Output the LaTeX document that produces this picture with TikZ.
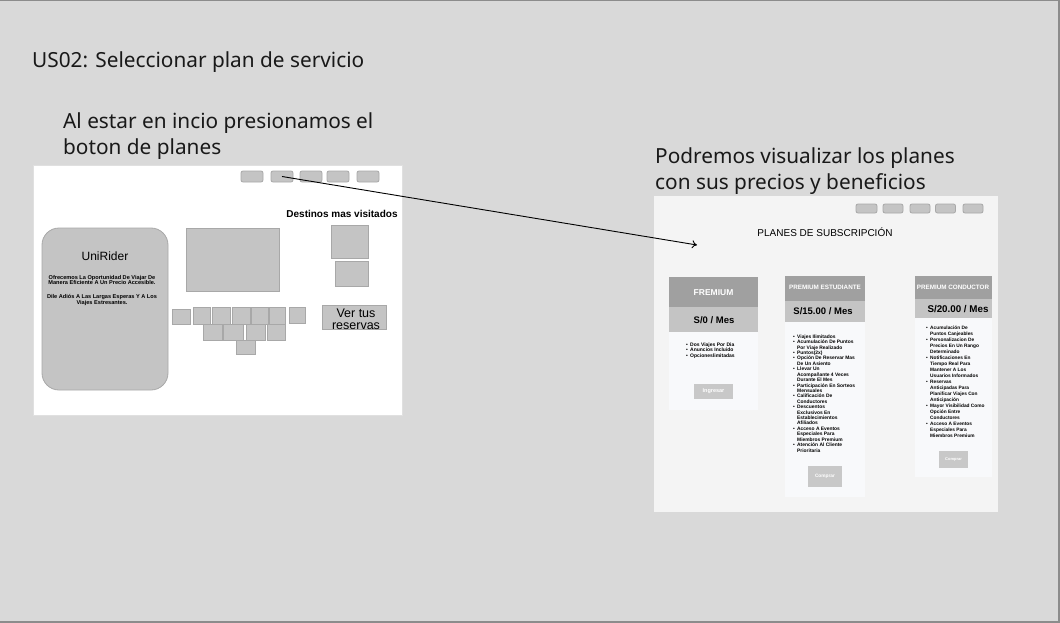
\documentclass[tikz,border=0pt]{standalone}
\usepackage{fontspec}
\setmainfont{Noto Sans}
\newfontfamily\mockfont{Liberation Sans}
\usetikzlibrary{arrows.meta}
\definecolor{bg}{HTML}{D9D9D9}
\definecolor{frameline}{HTML}{8C8C8C}
\definecolor{boxfill}{HTML}{C4C4C4}
\definecolor{boxline}{HTML}{A8A8A8}
\definecolor{panelR}{HTML}{F4F4F4}
\definecolor{panelL}{HTML}{FFFFFF}
\definecolor{cardhead}{HTML}{A0A0A0}
\definecolor{cardprice}{HTML}{C4C4C4}
\definecolor{cardbody}{HTML}{F8F9FB}
\definecolor{cardbtn}{HTML}{C8C8C8}
\newcommand\bitem[1]{\makebox[4pt][l]{\textbullet}#1}
\newcommand\citem[1]{\hspace*{4pt}#1}
\tikzset{
  gbox/.style={fill=boxfill, draw=boxline, line width=0.8pt},
  topbtn/.style={gbox, rounded corners=2pt, minimum width=22pt, minimum height=11pt, inner sep=0pt},
  topbtnR/.style={gbox, rounded corners=2pt, minimum width=20pt, minimum height=9pt, inner sep=0pt},
  heading/.style={font=\fontsize{20.8}{25}\selectfont, text=black!90, align=left, inner sep=0pt, anchor=base west},
  mock/.style={font=\mockfont, inner sep=0pt},
  listtxt/.style={mock, align=left, anchor=north west, text=black},
  cardbtnst/.style={fill=cardbtn, draw=none, inner sep=0pt, text=white, font=\mockfont\bfseries},
}
\begin{document}
\begin{tikzpicture}[x=1pt,y=-1pt]
\useasboundingbox (0,0) rectangle (1060,623);
\fill[bg] (0,0) rectangle (1060,623);
\draw[frameline, line width=1.5pt] (0,0.75) -- (1059,0.75);
\draw[frameline, line width=2pt] (1059,0) -- (1059,622) -- (0,622);

% headings
\node[heading] (title) at (32,68) {US02: Seleccionar plan de servicio};
\node[heading] (capL1) at (63,129) {Al estar en incio presionamos el};
\node[heading] (capL2) at (63,154) {boton de planes};
\node[heading] (capR1) at (655,164) {Podremos visualizar los planes};
\node[heading] (capR2) at (655,189) {con sus precios y beneficios};

% ---------- left mockup ----------
\fill[panelL, draw=white!88!black, line width=0.6pt] (33,165) rectangle (402,415);
\node[topbtn] (b1) at (252,176.5) {};
\node[topbtn] (b2) at (282,176.5) {};
\node[topbtn] (b3) at (311,176.5) {};
\node[topbtn] (b4) at (338,176.5) {};
\node[topbtn] (b5) at (368,176.5) {};

\node[mock, font=\mockfont\bfseries\fontsize{10}{12}\selectfont] (dest) at (342,214) {Destinos mas visitados};

\draw[gbox, rounded corners=17pt] (42,228) rectangle (168,390);
\node[mock, font=\mockfont\fontsize{12}{14}\selectfont] (uni) at (105,256) {UniRider};
\node[mock, align=center, font=\mockfont\bfseries\fontsize{5.6}{5.9}\selectfont] (p1) at (102,280) {Ofrecemos La Oportunidad De Viajar De\\Manera Eficiente A Un Precio Accesible.};
\node[mock, align=center, font=\mockfont\bfseries\fontsize{5.6}{5.9}\selectfont] (p2) at (102,300) {Dile Adiós A Las Largas Esperas Y A Los\\Viajes Estresantes.};

\draw[gbox] (186,228) rectangle (279,291);
\draw[gbox] (331,225) rectangle (368,258);
\draw[gbox] (335,261) rectangle (368,286);

\draw[gbox] (322,305) rectangle (386,329);
\node[mock, font=\mockfont\fontsize{12.5}{13}\selectfont] (ver1) at (356,313) {Ver tus};
\node[mock, font=\mockfont\fontsize{12.5}{13}\selectfont] (ver2) at (356,326) {reservas};

% small squares
\draw[gbox] (172,309) rectangle (190,324);
\draw[gbox] (193,307) rectangle (210,324);
\draw[gbox] (212,307) rectangle (230,324);
\draw[gbox] (232,307) rectangle (250,324);
\draw[gbox] (251,307) rectangle (268,324);
\draw[gbox] (269,307) rectangle (285,324);
\draw[gbox] (289,307) rectangle (305,323);
\draw[gbox] (203,324) rectangle (222,340);
\draw[gbox] (223,324) rectangle (243,340);
\draw[gbox] (246,324) rectangle (265,340);
\draw[gbox] (267,324) rectangle (285,340);
\draw[gbox] (236,340) rectangle (255,354);

% ---------- right mockup ----------
\fill[panelR] (654,196) rectangle (998,512);
\node[topbtnR, minimum width=21pt] (r1) at (866.5,208.5) {};
\node[topbtnR] (r2) at (893,208.5) {};
\node[topbtnR] (r3) at (920,208.5) {};
\node[topbtnR] (r4) at (945.5,208.5) {};
\node[topbtnR] (r5) at (973,208.5) {};
\node[mock, font=\mockfont\fontsize{10}{12}\selectfont] (plantitle) at (825,232) {PLANES DE SUBSCRIPCIÓN};

% card 1
\fill[cardhead] (669,277) rectangle (758,307);
\fill[cardprice] (669,307) rectangle (758,332);
\fill[cardbody] (669,332) rectangle (758,410);
\node[mock, text=white, font=\mockfont\bfseries\fontsize{8.5}{10}\selectfont] (h1) at (713.5,293) {FREMIUM};
\node[mock, font=\mockfont\bfseries\fontsize{9.5}{11}\selectfont] (pr1) at (714,320) {S/0 / Mes};
\node[listtxt, font=\mockfont\bfseries\fontsize{5}{5.6}\selectfont] (l1) at (686,342.2) {\bitem{Dos Viajes Por Dia}\\\bitem{Anuncios Incluido}\\\bitem{Opcioneslimitadas}};
\node[cardbtnst, minimum width=39pt, minimum height=15pt, font=\mockfont\bfseries\fontsize{5.5}{6}\selectfont] (btn1) at (713.5,391.5) {Ingresar};

% card 2
\fill[cardhead] (785,276) rectangle (865,301);
\fill[cardprice] (785,301) rectangle (865,322);
\fill[cardbody] (785,322) rectangle (865,497);
\node[mock, text=white, font=\mockfont\bfseries\fontsize{6.3}{7}\selectfont] (h2) at (825,287) {PREMIUM ESTUDIANTE};
\node[mock, font=\mockfont\bfseries\fontsize{9.5}{11}\selectfont] (pr2) at (823,311) {S/15.00 / Mes};
\node[listtxt, font=\mockfont\bfseries\fontsize{4.9}{5.42}\selectfont] (l2) at (793,334.5) {\bitem{Viajes Ilimitados}\\
\bitem{Acumulación De Puntos}\\\citem{Por Viaje Realizado}\\
\bitem{Puntos(2x)}\\
\bitem{Opción De Reservar Mas}\\\citem{De Un Asiento}\\
\bitem{Llevar Un}\\\citem{Acompañante 4 Veces}\\\citem{Durante El Mes}\\
\bitem{Participación En Sorteos}\\\citem{Mensuales}\\
\bitem{Calificación De}\\\citem{Conductores}\\
\bitem{Descuentos}\\\citem{Exclusivos En}\\\citem{Establecimientos}\\\citem{Afiliados}\\
\bitem{Acceso A Eventos}\\\citem{Especiales Para}\\\citem{Miembros Premium}\\
\bitem{Atención Al Cliente}\\\citem{Prioritaria}};
\node[cardbtnst, minimum width=34pt, minimum height=21pt, font=\mockfont\bfseries\fontsize{4.8}{5}\selectfont] (btn2) at (825,476.5) {Comprar};

% card 3
\fill[cardhead] (915,276) rectangle (992,299);
\fill[cardprice] (915,299) rectangle (992,318);
\fill[cardbody] (915,318) rectangle (992,477);
\node[mock, text=white, font=\mockfont\bfseries\fontsize{6.3}{7.5}\selectfont] (h3) at (953,287) {PREMIUM CONDUCTOR};
\node[mock, font=\mockfont\bfseries\fontsize{9.8}{11}\selectfont] (pr3) at (958,309) {S/20.00 / Mes};
\node[listtxt, font=\mockfont\bfseries\fontsize{4.8}{6}\selectfont] (l3) at (926,325.3) {\bitem{Acumulación De}\\\citem{Puntos Canjeables}\\
\bitem{Personalizacion De}\\\citem{Precios En Un Rango}\\\citem{Determinado}\\
\bitem{Notificaciones En}\\\citem{Tiempo Real Para}\\\citem{Mantener A Los}\\\citem{Usuarios Informados}\\
\bitem{Reservas}\\\citem{Anticipadas Para}\\\citem{Planificar Viajes Con}\\\citem{Anticipación}\\
\bitem{Mayor Visibilidad Como}\\\citem{Opción Entre}\\\citem{Conductores}\\
\bitem{Acceso A Eventos}\\\citem{Especiales Para}\\\citem{Miembros Premium}};
\node[cardbtnst, minimum width=29pt, minimum height=17pt, font=\mockfont\bfseries\fontsize{4}{4.5}\selectfont] (btn3) at (953.5,459.5) {Comprar};

% arrow
\coordinate (arrowend) at (697,245);
\draw[-{To[length=5pt,width=8pt]}, line width=0.9pt, black] (b2.center) -- (arrowend);
\end{tikzpicture}
\end{document}
